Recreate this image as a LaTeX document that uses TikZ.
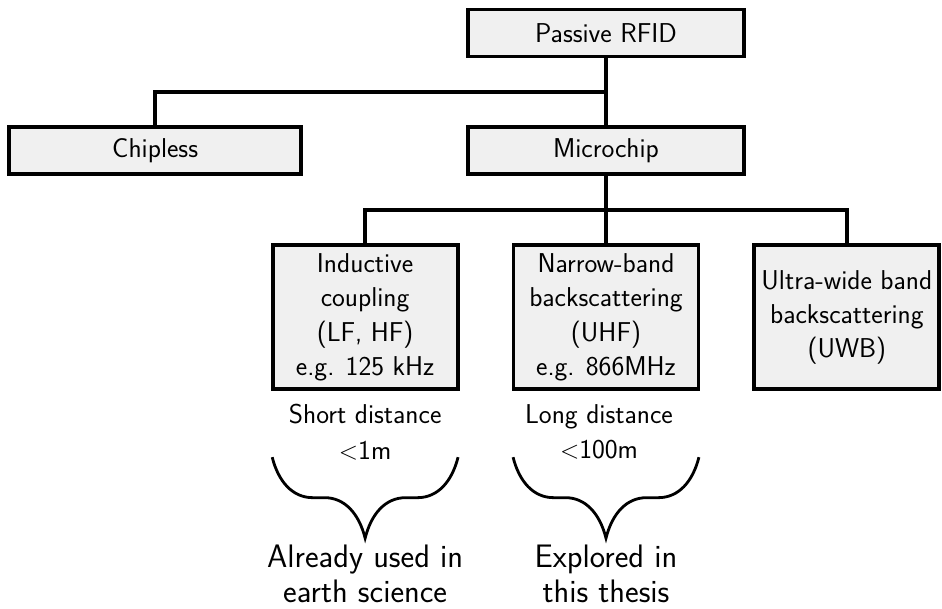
\documentclass[tikz,border=0pt]{standalone}
\usetikzlibrary{positioning,decorations.pathreplacing,calc}
\definecolor{boxfill}{gray}{0.94}

\begin{document}
\begin{tikzpicture}[
  box/.style={draw, line width=2.2pt, fill=boxfill, minimum height=0.94cm,
              font=\sffamily\fontsize{15.5}{19.5}\selectfont, align=center, inner sep=0pt},
  tbox/.style={box, minimum width=3.7cm, minimum height=2.88cm},
  link/.style={line width=2.2pt},
  note/.style={font=\sffamily\fontsize{15.5}{20}\selectfont, align=center, inner sep=0pt},
  goal/.style={font=\sffamily\fontsize{18.5}{20}\selectfont, align=center, inner sep=0pt},
  brc/.style={decorate, line width=1.6pt,
              decoration={brace, mirror, amplitude=0.81cm, transform={yscale=2}}},
]
  \useasboundingbox (0,0) rectangle (18.84,-12.18);

  \node[box, minimum width=5.52cm] (rfid) at (12.12,-0.66) {Passive RFID};
  \node[box, minimum width=5.52cm, below=1.34cm of rfid] (chip) {Microchip};
  \node[box, minimum width=5.84cm, left=3.26cm of chip] (chipless) {Chipless};

  \node[tbox, below=1.34cm of chip] (narrow) {Narrow-band\\backscattering\\(UHF)\\e.g. 866MHz};
  \node[tbox, left=1.04cm of narrow] (induct) {Inductive\\coupling\\(LF, HF)\\e.g. 125 kHz};
  \node[tbox, right=1.04cm of narrow] (uwb) {Ultra-wide band\\backscattering\\(UWB)};

  \coordinate (split1) at ($(rfid.south)!0.5!(chip.north)$);
  \coordinate (split2) at ($(chip.south)!0.5!(narrow.north)$);
  \draw[link] (rfid.south) -- (chip.north);
  \draw[link] (split1) -| (chipless.north);
  \draw[link] (chip.south) -- (narrow.north);
  \draw[link] (split2) -| (induct.north);
  \draw[link] (split2) -| (uwb.north);

  \node[note, below=0.26cm of induct] (short) {Short distance\\$<$1m};
  \node[note, below=0.26cm of narrow, xshift=-0.14cm] (long) {Long distance\\$<$100m};

  % braces under the two ranges
  \coordinate (ind-a) at ($(induct.south west)+(0.03,-1.32)$);
  \coordinate (ind-b) at ($(induct.south east)+(-0.03,-1.32)$);
  \coordinate (nar-a) at ($(narrow.south west)+(0.03,-1.32)$);
  \coordinate (nar-b) at ($(narrow.south east)+(-0.03,-1.32)$);
  \draw[brc] (ind-a) -- (ind-b);
  \draw[brc] (nar-a) -- (nar-b);
  \coordinate (ind-tip) at ($(ind-a)!0.5!(ind-b)+(0,-1.62)$);
  \coordinate (nar-tip) at ($(nar-a)!0.5!(nar-b)+(0,-1.62)$);

  \node[goal, below=0.12cm of ind-tip] (used) {Already used in\\earth science};
  \node[goal, below=0.12cm of nar-tip] (thesis) {Explored in\\this thesis};
\end{tikzpicture}
\end{document}
